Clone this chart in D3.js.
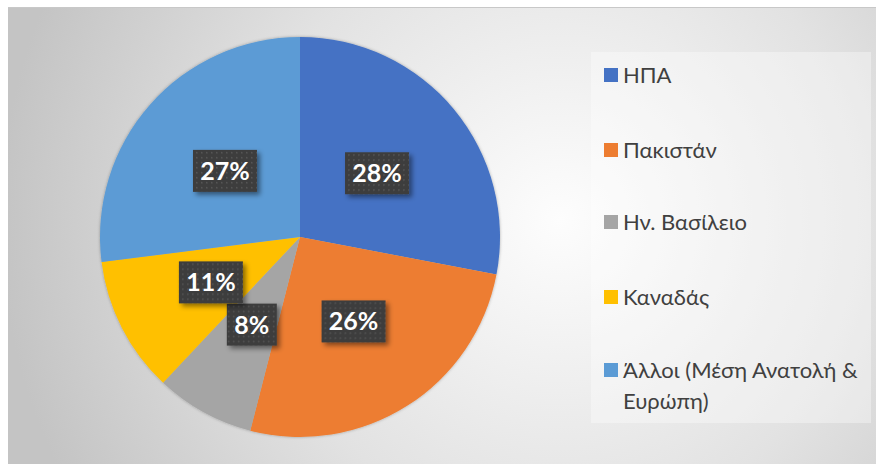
<!DOCTYPE html>
<html>
<head>
<meta charset="utf-8">
<script src="https://cdn.jsdelivr.net/npm/d3@7"></script>
<style>
  body { margin: 0; background: #fff; }
  svg { display: block; }
</style>
</head>
<body>
<svg id="pieChart"></svg>
<script>
const categories = ["ΗΠΑ", "Πακιστάν", "Ην. Βασίλειο", "Καναδάς", "Άλλοι (Μέση Ανατολή & Ευρώπη)"];
const values = [28, 26, 8, 11, 27];
const labels = ["28%", "26%", "8%", "11%", "27%"];
const colors = ["#4472C4", "#ED7D31", "#A5A5A5", "#FFC000", "#5B9BD5"];
// legend text is wrapped by hand like in the original
const legendLines = [["ΗΠΑ"], ["Πακιστάν"], ["Ην. Βασίλειο"], ["Καναδάς"], ["Άλλοι (Μέση Ανατολή &", "Ευρώπη)"]];

const W = 876, H = 464;
const svg = d3.select("#pieChart").attr("width", W).attr("height", H);
const defs = svg.append("defs");

// background gradient of the chart area
const bg = defs.append("radialGradient").attr("id", "bgGrad")
  .attr("gradientUnits", "userSpaceOnUse")
  .attr("cx", 560).attr("cy", 220).attr("r", 560);
bg.append("stop").attr("offset", "0%").attr("stop-color", "#fdfdfd");
bg.append("stop").attr("offset", "55%").attr("stop-color", "#e2e2e2");
bg.append("stop").attr("offset", "100%").attr("stop-color", "#c4c4c4");

// dotted pattern for the data label boxes
const pat = defs.append("pattern").attr("id", "dots")
  .attr("patternUnits", "userSpaceOnUse").attr("width", 5).attr("height", 5);
pat.append("rect").attr("width", 5).attr("height", 5).attr("fill", "#3c3c3c");
pat.append("rect").attr("x", 1).attr("y", 1).attr("width", 1.6).attr("height", 1.6).attr("fill", "#555");

const shadow = defs.append("filter").attr("id", "shadow")
  .attr("x", "-30%").attr("y", "-30%").attr("width", "160%").attr("height", "160%");
shadow.append("feDropShadow").attr("dx", 3).attr("dy", 3).attr("stdDeviation", 2.5)
  .attr("flood-color", "#000").attr("flood-opacity", 0.45);

const pieShadow = defs.append("filter").attr("id", "pieShadow")
  .attr("x", "-10%").attr("y", "-10%").attr("width", "120%").attr("height", "120%");
pieShadow.append("feDropShadow").attr("dx", 0).attr("dy", 0).attr("stdDeviation", 1.5)
  .attr("flood-color", "#000").attr("flood-opacity", 0.3);

// chart area
svg.append("rect").attr("x", 8).attr("y", 7).attr("width", W - 8).attr("height", H - 7)
  .attr("fill", "url(#bgGrad)");
svg.append("line").attr("x1", 8).attr("x2", W).attr("y1", 7.5).attr("y2", 7.5)
  .attr("stroke", "#c8c8c8");

// legend box
svg.append("rect").attr("x", 591).attr("y", 52).attr("width", 280).attr("height", 371)
  .attr("fill", "#fff").attr("opacity", 0.35);

// pie
const cx = 300, cy = 237, r = 200;
const pie = d3.pie().sort(null).value(d => d);
const arcs = pie(values);
const arc = d3.arc().innerRadius(0).outerRadius(r);

const g = svg.append("g").attr("transform", `translate(${cx},${cy})`);
g.append("g").attr("filter", "url(#pieShadow)")
  .selectAll("path")
  .data(arcs)
  .enter().append("path")
  .attr("d", arc)
  .attr("fill", (d, i) => colors[i]);

// data labels
const lbl = g.selectAll("g.lbl")
  .data(arcs)
  .enter().append("g")
  .attr("class", "lbl")
  .attr("transform", d => `translate(${arc.centroid(d)})`);

lbl.append("rect")
  .attr("x", (d, i) => labels[i].length > 2 ? -32 : -25)
  .attr("y", -21)
  .attr("width", (d, i) => labels[i].length > 2 ? 64 : 50)
  .attr("height", 42)
  .attr("fill", "url(#dots)")
  .attr("filter", "url(#shadow)");

lbl.append("text")
  .attr("text-anchor", "middle")
  .attr("dy", "0.36em")
  .attr("fill", "#fff")
  .style("font-family", "Lato, 'Open Sans', sans-serif")
  .style("font-weight", "bold")
  .style("font-size", "25px")
  .text((d, i) => labels[i]);

// legend
const legendY = [75, 150, 222, 297, 370];
const leg = svg.append("g").selectAll("g")
  .data(categories)
  .enter().append("g")
  .attr("transform", (d, i) => `translate(604,${legendY[i]})`);

leg.append("rect").attr("x", 0).attr("y", -7).attr("width", 14).attr("height", 14)
  .attr("fill", (d, i) => colors[i]);

leg.append("text")
  .attr("x", 19)
  .attr("fill", "#404040")
  .style("font-family", "Lato, 'Open Sans', sans-serif")
  .style("font-size", "22px")
  .selectAll("tspan")
  .data((d, i) => legendLines[i])
  .enter().append("tspan")
  .attr("x", 19)
  .attr("y", (d, j) => j * 31)
  .attr("dy", "0.35em")
  .text(d => d);
</script>
</body>
</html>
